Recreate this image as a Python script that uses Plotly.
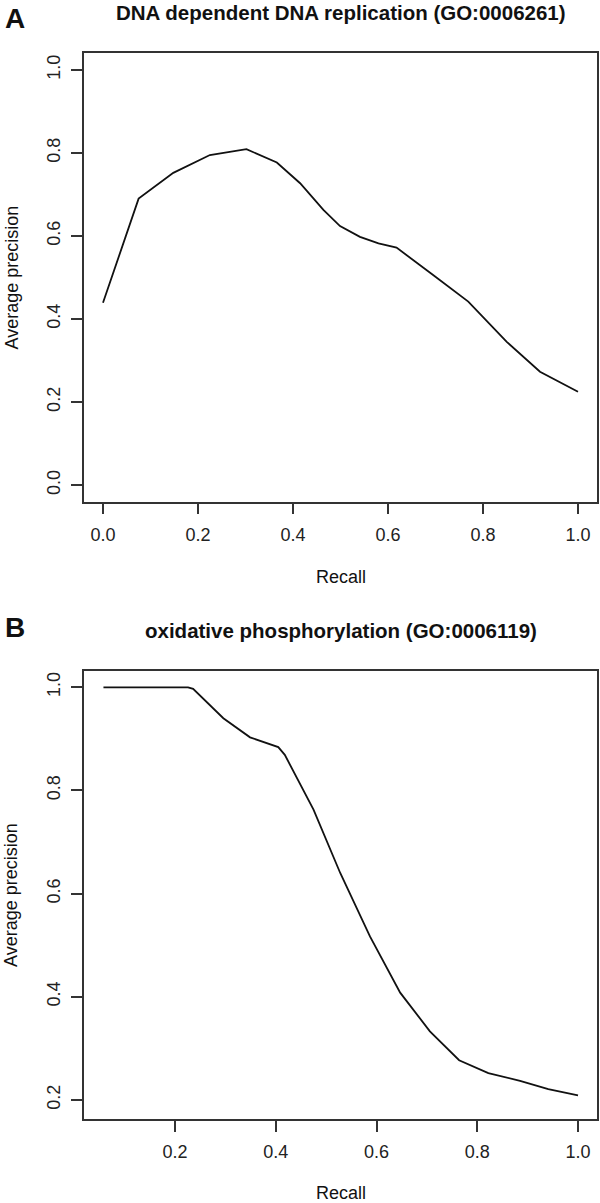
import plotly.graph_objects as go

# Panel A: DNA dependent DNA replication
recall_a = [0.0, 0.075, 0.148, 0.225, 0.302, 0.366, 0.415, 0.464, 0.499, 0.541,
            0.580, 0.618, 0.695, 0.769, 0.850, 0.920, 1.0]
precision_a = [0.439, 0.690, 0.752, 0.795, 0.809, 0.777, 0.727, 0.663, 0.624, 0.598,
               0.582, 0.572, 0.506, 0.442, 0.345, 0.273, 0.225]

# Panel B: oxidative phosphorylation
recall_b = [0.058, 0.226, 0.236, 0.296, 0.349, 0.405, 0.418, 0.448, 0.475, 0.528,
            0.587, 0.647, 0.706, 0.764, 0.822, 0.885, 0.941, 1.0]
precision_b = [1.0, 1.0, 0.997, 0.940, 0.903, 0.884, 0.869, 0.814, 0.763, 0.640,
               0.517, 0.408, 0.333, 0.277, 0.252, 0.237, 0.221, 0.209]

title_a = "DNA dependent DNA replication (GO:0006261)"
title_b = "oxidative phosphorylation (GO:0006119)"
ticks_a_x = [0.0, 0.2, 0.4, 0.6, 0.8, 1.0]
ticks_a_y = [0.0, 0.2, 0.4, 0.6, 0.8, 1.0]
ticks_b_x = [0.2, 0.4, 0.6, 0.8, 1.0]
ticks_b_y = [0.2, 0.4, 0.6, 0.8, 1.0]

W, H = 600, 1203
FONT = "Liberation Sans, Arial, sans-serif"
AX = "#333333"

def px_x(p):
    return p / W

def px_y(p):
    return 1 - p / H

fig = go.Figure()
fig.add_trace(go.Scatter(x=recall_a, y=precision_a, mode="lines",
                         line=dict(color="#111111", width=1.8),
                         xaxis="x", yaxis="y", showlegend=False))
fig.add_trace(go.Scatter(x=recall_b, y=precision_b, mode="lines",
                         line=dict(color="#111111", width=1.8),
                         xaxis="x2", yaxis="y2", showlegend=False))

common = dict(showline=True, mirror=True, linecolor=AX, linewidth=1.5,
              ticks="outside", ticklen=11, tickwidth=1.5, tickcolor=AX,
              showgrid=False, zeroline=False, automargin=False,
              tickfont=dict(family=FONT, size=18, color="#222222"))
xcommon = dict(common, ticklabelstandoff=5)
ycommon = dict(common, ticklabelstandoff=4, tickangle=-90)

xd = [px_x(84), px_x(597)]
fig.update_layout(
    width=W, height=H,
    margin=dict(l=0, r=0, t=0, b=0),
    paper_bgcolor="white", plot_bgcolor="white",
    xaxis=dict(domain=xd, range=[-0.04, 1.04], tickvals=ticks_a_x,
               ticktext=[f"{v:.1f}" for v in ticks_a_x], anchor="y", **xcommon),
    yaxis=dict(domain=[px_y(501.7), px_y(53.3)], range=[-0.04, 1.04],
               tickvals=ticks_a_y, ticktext=[f"{v:.1f}" for v in ticks_a_y],
               anchor="x", **ycommon),
    xaxis2=dict(domain=xd, range=[0.0194, 1.0377], tickvals=ticks_b_x,
                ticktext=[f"{v:.1f}" for v in ticks_b_x], anchor="y2", **xcommon),
    yaxis2=dict(domain=[px_y(1119), px_y(671)], range=[0.163, 1.0316],
                tickvals=ticks_b_y, ticktext=[f"{v:.1f}" for v in ticks_b_y],
                anchor="x2", **ycommon),
)

def ann(text, x, y, size, bold=False, angle=0):
    fig.add_annotation(text=f"<b>{text}</b>" if bold else text,
                       x=px_x(x), y=px_y(y), xref="paper", yref="paper",
                       xanchor="center", yanchor="middle", showarrow=False,
                       textangle=angle,
                       font=dict(family=FONT, size=size, color="#111111"))

cx = (84 + 597) / 2
ann("A", 15, 19, 28, bold=True)
ann(title_a, cx, 13, 20.5, bold=True)
ann("Recall", cx, 577, 18)
ann("Average precision", 11, (53.3 + 501.7) / 2, 18, angle=-90)
ann("B", 15, 627, 28, bold=True)
ann(title_b, cx, 630, 20.5, bold=True)
ann("Recall", cx, 1193, 18)
ann("Average precision", 11, (671 + 1119) / 2, 18, angle=-90)

fig.write_html("out.html",
               config={"displayModeBar": False},
               post_script="document.body.style.margin='0';"
                           "document.body.style.overflow='hidden';")
